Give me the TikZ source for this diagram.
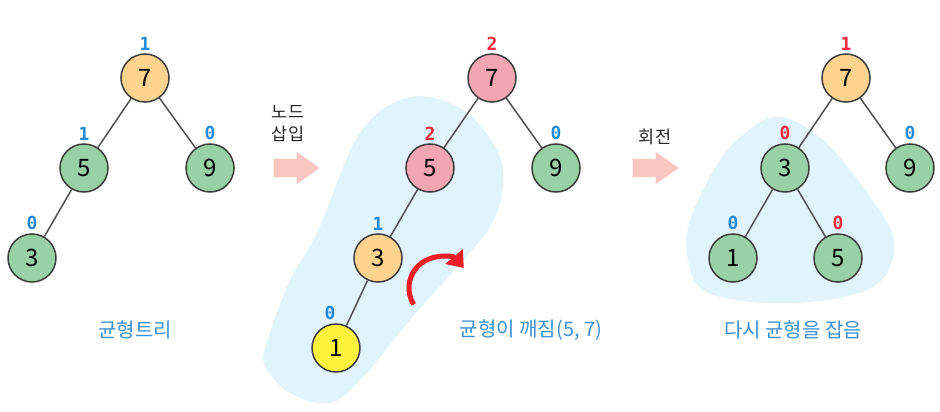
\documentclass[tikz,border=0pt]{standalone}
\usepackage{fontspec}
\setmainfont{Noto Sans CJK KR}
\newfontfamily\numfont{DejaVu Sans Mono}
\usetikzlibrary{arrows, arrows.meta, positioning, shapes.arrows}

\definecolor{nodeline}{HTML}{3C3C3C}
\definecolor{edgeline}{HTML}{505050}
\definecolor{cOrange}{HTML}{FDD38E}
\definecolor{cGreen}{HTML}{98D1A5}
\definecolor{cPink}{HTML}{F4A5B2}
\definecolor{cYellow}{HTML}{FFF23B}
\definecolor{hBlue}{HTML}{2489DA}
\definecolor{hRed}{HTML}{EF2A3D}
\definecolor{blobBlue}{HTML}{E1F3FB}
\definecolor{insPink}{HTML}{F9C6C2}
\definecolor{capBlue}{HTML}{3B8FD4}
\definecolor{rotRed}{HTML}{EE1C25}

\begin{document}
\begin{tikzpicture}[>= stealth', x=1pt, y=-1pt]
          \tikzstyle{node}=[circle, draw=nodeline, line width=1.5pt, minimum size=48pt, inner sep=0pt, font=\fontsize{24}{24}\selectfont]
          \tikzstyle{tedge}=[draw=edgeline, line width=1.5pt]
          \tikzstyle{hb}=[inner sep=0pt, text=hBlue, font=\numfont\bfseries\fontsize{18}{18}\selectfont]
          \tikzstyle{hr}=[hb, text=hRed]
          \tikzstyle{capt}=[text=capBlue, font=\fontsize{20}{24}\selectfont]
          \tikzstyle{blob}=[fill=blobBlue, draw=none]
          \tikzstyle{ins}=[single arrow, fill=insPink, draw=none, anchor=tip, minimum height=46pt, inner xsep=0pt, inner ysep=9pt, single arrow head extend=7pt, single arrow tip angle=70]
          \tikzstyle{opname}=[text=black!85, align=center, font=\fontsize{17.5}{22}\selectfont]

          \useasboundingbox (0,0) rectangle (940,412);

          \fill[blob] plot[smooth cycle, tension=0.6] coordinates {(266,345) (290,280) (317,233) (360,133) (410,97) (463,110) (497,150) (503,187) (490,227) (457,267) (410,320) (363,377) (330,403) (290,393) (266,368)};
          \fill[blob] plot[smooth cycle, tension=0.6] coordinates {(783,117) (823,140) (863,187) (892,233) (890,267) (867,290) (810,302) (750,302) (703,290) (688,260) (690,220) (720,160) (753,127)};

          \node[node, fill=cOrange] at (145,78) (A7) {7};
          \node[node, fill=cGreen] at (84,168) (A5) {5};
          \node[node, fill=cGreen] at (210,168) (A9) {9};
          \node[node, fill=cGreen] at (32,258) (A3) {3};

          \node[hb, above=3pt of A7] (hA7) {1};
          \node[hb, above=3pt of A5] (hA5) {1};
          \node[hb, above=3pt of A9] (hA9) {0};
          \node[hb, above=3pt of A3] (hA3) {0};

          \path (A7) edge[tedge] (A5);
          \path (A7) edge[tedge] (A9);
          \path (A5) edge[tedge] (A3);

          \node[capt] at (135,330) (T1) {균형트리};

          \node[opname] at (288,124) (L1) {노드\\삽입};
          \node[ins] at (320,168) (I1) {};

          \node[node, fill=cPink] at (492,78) (B7) {7};
          \node[node, fill=cPink] at (430,168) (B5) {5};
          \node[node, fill=cGreen] at (556,168) (B9) {9};
          \node[node, fill=cOrange] at (378,258) (B3) {3};
          \node[node, fill=cYellow] at (336,348) (B1) {1};

          \node[hr, above=3pt of B7] (hB7) {2};
          \node[hr, above=3pt of B5] (hB5) {2};
          \node[hb, above=3pt of B9] (hB9) {0};
          \node[hb, above=3pt of B3] (hB3) {1};
          \node[hb, above=3pt of B1, xshift=-6pt] (hB1) {0};

          \path (B7) edge[tedge] (B5);
          \path (B7) edge[tedge] (B9);
          \path (B5) edge[tedge] (B3);
          \path (B3) edge[tedge] (B1);

          \coordinate (r1) at (413.7,304.4);
          \draw[rotRed, line width=5pt, -{Triangle[length=15pt, width=22pt]}] (r1) arc[start angle=212, end angle=40, radius=31pt];

          \node[capt] at (531,330) (T2) {균형이 깨짐(5, 7)};

          \node[opname] at (655,137) (L2) {회전};
          \node[ins] at (679,168) (I2) {};

          \node[node, fill=cOrange] at (846,78) (C7) {7};
          \node[node, fill=cGreen] at (785,168) (C3) {3};
          \node[node, fill=cGreen] at (910,168) (C9) {9};
          \node[node, fill=cGreen] at (733,258) (C1) {1};
          \node[node, fill=cGreen] at (838,258) (C5) {5};

          \node[hr, above=3pt of C7] (hC7) {1};
          \node[hr, above=3pt of C3] (hC3) {0};
          \node[hb, above=3pt of C9] (hC9) {0};
          \node[hb, above=3pt of C1] (hC1) {0};
          \node[hr, above=3pt of C5] (hC5) {0};

          \path (C7) edge[tedge] (C3);
          \path (C7) edge[tedge] (C9);
          \path (C3) edge[tedge] (C1);
          \path (C3) edge[tedge] (C5);

          \node[capt] at (793,330) (T3) {다시 균형을 잡음};

        \end{tikzpicture}
\end{document}
